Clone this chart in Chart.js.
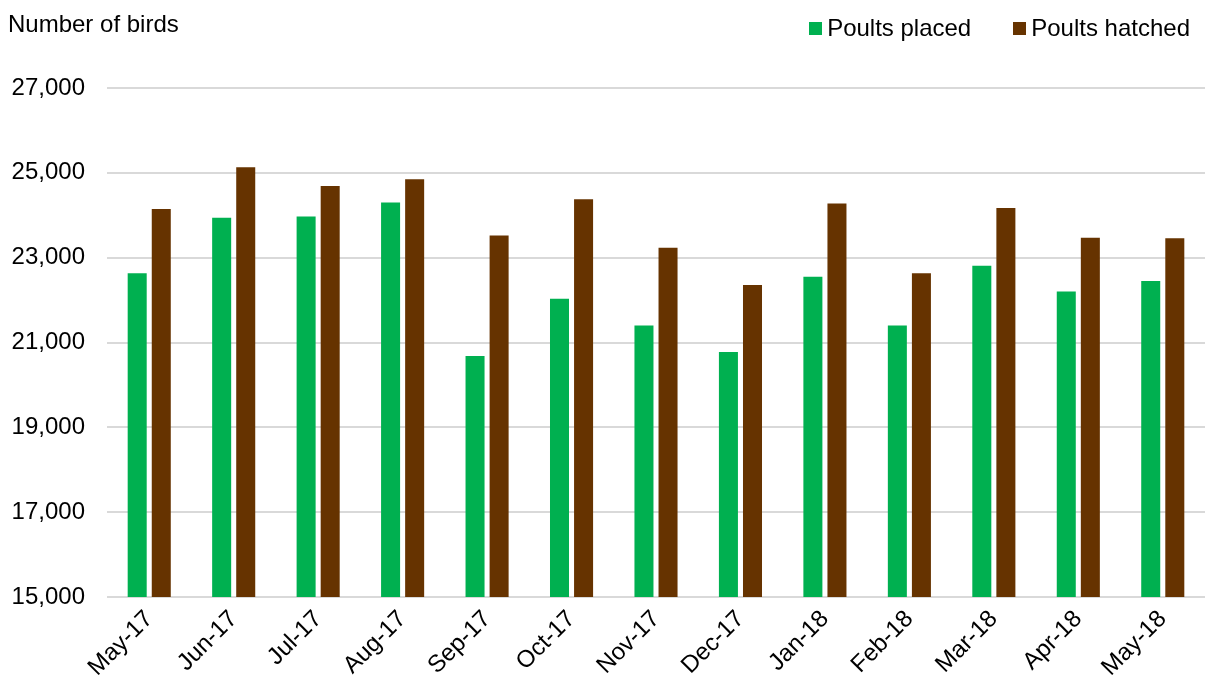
<!DOCTYPE html>
<html>
<head>
<meta charset="utf-8">
<script src="https://cdn.jsdelivr.net/npm/chart.js@4"></script>
<style>
  body { margin: 0; background: #fff; }
  #wrap { position: relative; width: 1205px; height: 679px; }
  #yTitle {
    position: absolute; left: 8px; top: 10px;
    font: 24px "Liberation Sans", Arial, sans-serif; color: #000;
  }
  #legend {
    position: absolute; right: 15px; top: 12px;
    display: flex; gap: 42px;
    font: 24px/32px "Liberation Sans", Arial, sans-serif; color: #000;
  }
  .item { display: flex; align-items: center; }
  .box { width: 13px; height: 13px; margin-right: 5px; }
</style>
</head>
<body>
<div id="wrap">
  <canvas id="chart" width="1205" height="679"></canvas>
  <div id="yTitle">Number of birds</div>
  <div id="legend"></div>
</div>
<script>
const months = ['May-17', 'Jun-17', 'Jul-17', 'Aug-17', 'Sep-17', 'Oct-17', 'Nov-17',
  'Dec-17', 'Jan-18', 'Feb-18', 'Mar-18', 'Apr-18', 'May-18'];
const poultsPlaced = [22630, 23940, 23970, 24300, 20680, 22030, 21400,
  20775, 22550, 21400, 22810, 22205, 22450];
const poultsHatched = [24150, 25130, 24690, 24850, 23520, 24380, 23235,
  22355, 24275, 22630, 24170, 23470, 23455];
const yMin = 15000;
const yMax = 27000;
const yStep = 2000;

const font = { family: '"Liberation Sans", Arial, sans-serif', size: 24 };

const chart = new Chart(document.getElementById('chart').getContext('2d'), {
  type: 'bar',
  data: {
    labels: months,
    datasets: [
      { label: 'Poults placed', data: poultsPlaced, backgroundColor: '#00B050' },
      { label: 'Poults hatched', data: poultsHatched, backgroundColor: '#663300' }
    ]
  },
  options: {
    responsive: false,
    animation: false,
    categoryPercentage: 0.57,
    barPercentage: 0.79,
    layout: { padding: { left: 11, right: 0, top: 88, bottom: 0 } },
    plugins: {
      legend: { display: false },
      tooltip: { enabled: false }
    },
    scales: {
      x: {
        grid: { display: false, drawTicks: false },
        border: { display: false },
        ticks: { color: '#000', font: font, minRotation: 45, maxRotation: 45, padding: 8 },
        afterFit: (scale) => { scale.height = 82; }
      },
      y: {
        min: yMin,
        max: yMax,
        border: { display: false },
        grid: { color: '#d9d9d9', lineWidth: 2, drawTicks: false },
        ticks: { color: '#000', font: font, stepSize: yStep, padding: 22 },
        afterFit: (scale) => { scale.width = 96; }
      }
    }
  }
});

// legend built from the datasets, laid out like the original
const legendEl = document.getElementById('legend');
chart.data.datasets.forEach(ds => {
  const item = document.createElement('div');
  item.className = 'item';
  const box = document.createElement('span');
  box.className = 'box';
  box.style.background = ds.backgroundColor;
  const text = document.createElement('span');
  text.textContent = ds.label;
  item.appendChild(box);
  item.appendChild(text);
  legendEl.appendChild(item);
});
</script>
</body>
</html>
